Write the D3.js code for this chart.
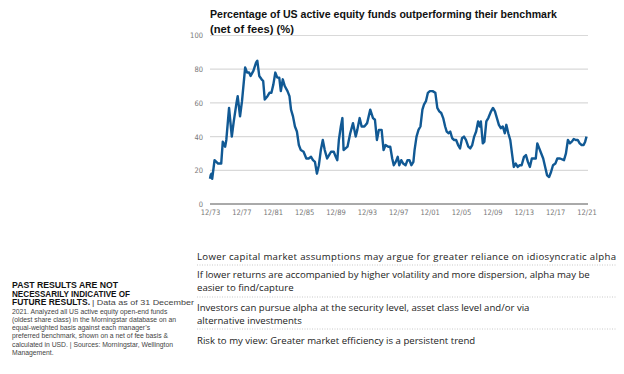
<!DOCTYPE html>
<html>
<head>
<meta charset="utf-8">
<script src="https://cdn.jsdelivr.net/npm/d3@7"></script>
<style>
  body { margin: 0; background: #fff; }
  svg { display: block; }
</style>
</head>
<body>
<div id="chart"></div>
<script>
// data (decimal year, % of funds outperforming)
var dates = [1973.92,1974.0,1974.1,1974.2,1974.5,1974.95,1975.35,1975.55,1975.85,1976.0,1976.35,1976.7,1976.95,1977.3,1977.45,1977.75,1978.0,1978.4,1978.65,1978.9,1979.1,1979.45,1979.8,1979.95,1980.2,1980.5,1980.7,1980.9,1981.25,1981.5,1981.75,1982.0,1982.25,1982.5,1982.75,1982.95,1983.2,1983.45,1983.8,1984.05,1984.25,1984.5,1984.75,1985.0,1985.25,1985.5,1985.85,1986.2,1986.5,1986.8,1987.05,1987.3,1987.55,1987.8,1988.05,1988.3,1988.55,1988.85,1989.1,1989.35,1989.7,1989.95,1990.15,1990.35,1990.6,1990.8,1990.95,1991.2,1991.45,1991.8,1992.15,1992.5,1992.7,1993.0,1993.25,1993.6,1993.95,1994.35,1994.7,1994.95,1995.2,1995.45,1995.8,1996.05,1996.3,1996.65,1996.9,1997.15,1997.35,1997.6,1997.85,1998.05,1998.3,1998.55,1998.85,1999.1,1999.35,1999.6,1999.85,2000.0,2000.25,2000.5,2000.75,2001.0,2001.2,2001.45,2001.7,2001.95,2002.3,2002.65,2002.9,2003.15,2003.4,2003.65,2003.9,2004.1,2004.35,2004.55,2004.8,2005.05,2005.3,2005.55,2005.8,2006.05,2006.3,2006.55,2006.85,2007.1,2007.35,2007.6,2007.85,2008.1,2008.3,2008.45,2008.7,2008.9,2009.15,2009.4,2009.75,2010.0,2010.25,2010.5,2010.75,2011.0,2011.25,2011.5,2011.7,2011.95,2012.2,2012.45,2012.65,2012.9,2013.15,2013.4,2013.65,2013.95,2014.2,2014.45,2014.7,2014.95,2015.2,2015.45,2015.65,2015.9,2016.15,2016.4,2016.65,2016.9,2017.15,2017.4,2017.65,2017.95,2018.2,2018.55,2019.05,2019.3,2019.55,2019.8,2020.05,2020.3,2020.55,2020.8,2021.05,2021.3,2021.55,2021.75,2021.92];
var values = [15,17,18,15,26,24,24,37,34,38,57,40,49,60,64,52,61,81,78,78,76,79,84,85,76,74,73,62,64,66,66,71,78,75,75,67,74,70,67,64,56,52,46,43,35,32,31,27,27,28,26,25,18,23,32,38,32,27,29,31,31,28,26,38,46,51,32,33,34,42,48,40,44,51,46,46,48,56,51,50,38,44,44,32,35,34,34,27,23,25,28,23,26,24,23,26,26,23,25,32,40,44,46,56,59,61,66,67,67,66,57,55,54,51,46,43,42,43,39,38,38,35,33,39,40,38,34,33,35,40,43,49,46,49,36,37,49,51,55,57,55,51,47,45,46,42,47,42,38,29,22,24,22,23,23,28,29,25,22,27,27,27,36,33,30,27,22,17,16,19,23,24,27,27,26,30,38,36,37,38.6,38,38,36,35,35,37,40];

var tickYears = [1973.92,1977.92,1981.92,1985.92,1989.92,1993.92,1997.92,2001.92,2005.92,2009.92,2013.92,2017.92,2021.92];
var tickLabels = ["12/73","12/77","12/81","12/85","12/89","12/93","12/97","12/01","12/05","12/09","12/13","12/17","12/21"];
var yTicks = [0,20,40,60,80,100];

var titleLines = ["Percentage of US active equity funds outperforming their benchmark", "(net of fees) (%)"];

var bullets = [
  ["Lower capital market assumptions may argue for greater reliance on idiosyncratic alpha"],
  ["If lower returns are accompanied by higher volatility and more dispersion, alpha may be", "easier to find/capture"],
  ["Investors can pursue alpha at the security level, asset class level and/or via", "alternative investments"],
  ["Risk to my view: Greater market efficiency is a persistent trend"]
];

var noteBold = ["PAST RESULTS ARE NOT", "NECESSARILY INDICATIVE OF", "FUTURE RESULTS."];
var noteFirst = "| Data as of 31 December";
var noteLines = ["2021. Analyzed all US active equity open-end funds",
  "(oldest share class) in the Morningstar database on an",
  "equal-weighted basis against each manager\u2019s",
  "preferred benchmark, shown on a net of fee basis &",
  "calculated in USD. | Sources: Morningstar, Wellington",
  "Management."];

var W = 624, H = 374;
var svg = d3.select("#chart").append("svg")
  .attr("width", W).attr("height", H);

var narrow = "'Liberation Sans Narrow', 'DejaVu Sans Condensed', sans-serif";
var sans = "'Liberation Sans', Arial, sans-serif";

// scales
var x = d3.scaleLinear().domain([1973.92, 2021.92]).range([210, 586.5]);
var y = d3.scaleLinear().domain([0, 100]).range([204, 35.5]);

// title
svg.append("g").selectAll("text")
  .data(titleLines)
  .enter().append("text")
  .attr("x", 210)
  .attr("y", function(d, i) { return 18 + i * 14.5; })
  .attr("font-family", sans)
  .attr("font-weight", "bold")
  .attr("font-size", "11.2px")
  .attr("fill", "#111")
  .text(function(d) { return d; })
  .filter(function(d, i) { return i == 0; })
  .attr("textLength", 347)
  .attr("lengthAdjust", "spacingAndGlyphs");

// gridlines
svg.append("g").selectAll("line")
  .data(yTicks.filter(function(d) { return d > 0; }))
  .enter().append("line")
  .attr("x1", 210).attr("x2", 588)
  .attr("y1", function(d) { return y(d); })
  .attr("y2", function(d) { return y(d); })
  .attr("stroke", "#d9d9d9")
  .attr("stroke-width", 1.2);

// y axis labels
var yAxis = svg.append("g")
  .attr("transform", "translate(203,0)")
  .call(d3.axisLeft(y).tickValues(yTicks).tickSize(0).tickPadding(0));
yAxis.select(".domain").remove();
yAxis.selectAll("text")
  .attr("font-family", narrow)
  .attr("font-size", "7.5px")
  .attr("fill", "#777");

// x axis
var xAxis = svg.append("g")
  .attr("transform", "translate(0," + y(0) + ")")
  .call(d3.axisBottom(x).tickValues(tickYears)
    .tickFormat(function(d, i) { return tickLabels[i]; })
    .tickSize(0).tickPadding(5.5));
xAxis.select(".domain")
  .attr("d", "M210,0H588")
  .attr("stroke", "#555")
  .attr("stroke-width", 1);
xAxis.selectAll("text")
  .attr("font-family", narrow)
  .attr("font-size", "7.5px")
  .attr("fill", "#777");

// the series
var line = d3.line()
  .x(function(d) { return x(d[0]); })
  .y(function(d) { return y(d[1]); });

svg.append("path")
  .datum(d3.zip(dates, values))
  .attr("d", line)
  .attr("fill", "none")
  .attr("stroke", "#115994")
  .attr("stroke-width", 2.4)
  .attr("stroke-linejoin", "round");

// bullet points on the right
var rowY = [259.5, 278, 311, 343.5];
var seps = [265, 297, 329];
bullets.forEach(function(rows, i) {
  rows.forEach(function(t, j) {
    svg.append("text")
      .attr("x", 197)
      .attr("y", rowY[i] + j * 12.6)
      .attr("font-family", "'Open Sans', sans-serif")
      .attr("font-size", "9.6px")
      .attr("fill", "#222")
      .text(t)
      .filter(function() { return i == 0; })
      .attr("textLength", 419)
      .attr("lengthAdjust", "spacing");
  });
});
svg.append("g").selectAll("line")
  .data(seps)
  .enter().append("line")
  .attr("x1", 197).attr("x2", 617)
  .attr("y1", function(d) { return d; })
  .attr("y2", function(d) { return d; })
  .attr("stroke", "#bbb")
  .attr("stroke-width", 0.8)
  .attr("stroke-dasharray", "1,1.5");

// disclaimer block, bottom left
var boldLen = [106, 118, 78];
noteBold.forEach(function(t, i) {
  svg.append("text")
    .attr("x", 12)
    .attr("y", 288 + i * 8.6)
    .attr("font-family", sans)
    .attr("font-weight", "bold")
    .attr("font-size", "8.3px")
    .attr("fill", "#111")
    .attr("textLength", boldLen[i])
    .attr("lengthAdjust", "spacingAndGlyphs")
    .text(t);
});
svg.append("text")
  .attr("x", 92)
  .attr("y", 305.2)
  .attr("font-family", sans)
  .attr("font-size", "6.6px")
  .attr("fill", "#444")
  .attr("textLength", 102)
  .attr("lengthAdjust", "spacingAndGlyphs")
  .text(noteFirst);
noteLines.forEach(function(t, i) {
  svg.append("text")
    .attr("x", 12)
    .attr("y", 313.5 + i * 8.3)
    .attr("font-family", sans)
    .attr("font-size", "6.8px")
    .attr("fill", "#444")
    .text(t);
});
</script>
</body>
</html>
